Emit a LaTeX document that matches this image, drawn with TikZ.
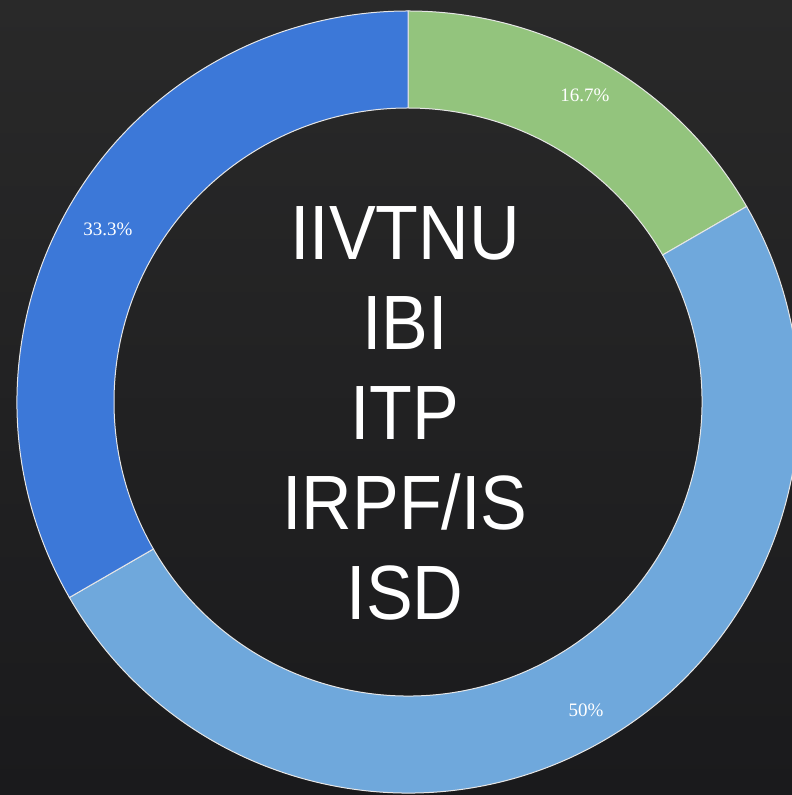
\documentclass[tikz,border=0pt]{standalone}
\usepackage{fontspec}
\setmainfont{Liberation Sans}
\newfontfamily\labelfont{Liberation Serif}
\newfontfamily\bigfont[FakeStretch=0.91]{Liberation Sans}
\definecolor{bgtop}{HTML}{292929}
\definecolor{bgbot}{HTML}{1A1A1C}
\definecolor{segGreen}{HTML}{93C47D}
\definecolor{segLight}{HTML}{6FA8DC}
\definecolor{segDark}{HTML}{3C78D8}
\definecolor{edgeCol}{HTML}{E6E6E6}
\tikzset{
  seg/.style={draw=edgeCol, line width=1pt},
  pct/.style={text=white, font=\labelfont\fontsize{19}{19}\selectfont, anchor=base, inner sep=0pt},
  big/.style={text=white, font=\bigfont\fontsize{77}{77}\selectfont, anchor=base, inner sep=0pt}
}
\begin{document}
\begin{tikzpicture}[x=1pt,y=1pt]
\shade[top color=bgtop, bottom color=bgbot] (0,0) rectangle (792,795);
\useasboundingbox (0,0) rectangle (792,795);
\coordinate (c) at (408,393);
% green 90 -> 30
\draw[seg, fill=segGreen] ([shift={(90:391)}]c) arc[start angle=90, end angle=30, radius=391]
  -- ([shift={(30:294)}]c) arc[start angle=30, end angle=90, radius=294] -- cycle;
% light blue 30 -> -150
\draw[seg, fill=segLight] ([shift={(30:391)}]c) arc[start angle=30, end angle=-150, radius=391]
  -- ([shift={(-150:294)}]c) arc[start angle=-150, end angle=30, radius=294] -- cycle;
% dark blue -150 -> -270
\draw[seg, fill=segDark] ([shift={(-150:391)}]c) arc[start angle=-150, end angle=-270, radius=391]
  -- ([shift={(90:294)}]c) arc[start angle=90, end angle=210, radius=294] -- cycle;
\node[pct] (p1) at (585,693) {16.7\%};
\node[pct] (p2) at (108,559) {33.3\%};
\node[pct] (p3) at (586,78) {50\%};
\node[big] (t1) at (405,535) {IIVTNU};
\node[big] (t2) at (405,445) {IBI};
\node[big] (t3) at (405,355) {ITP};
\node[big] (t4) at (405,265) {IRPF/IS};
\node[big] (t5) at (405,175) {ISD};
\end{tikzpicture}
\end{document}
